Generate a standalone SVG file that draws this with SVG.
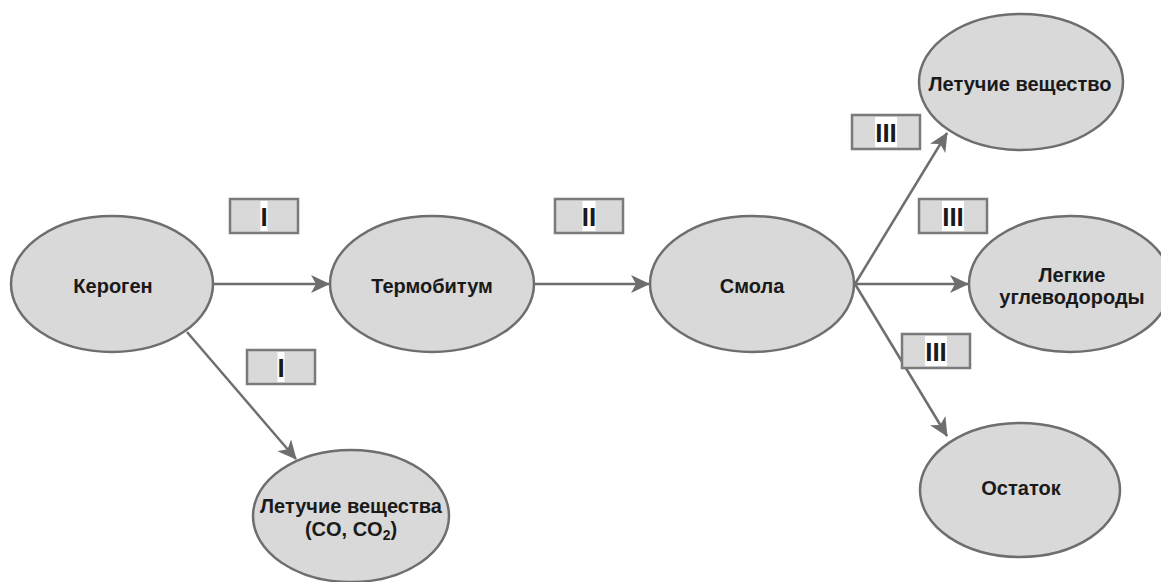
<svg xmlns="http://www.w3.org/2000/svg" width="1161" height="582" viewBox="0 0 1161 582">
<style>
.node{fill:#d9d9d9;stroke:#6e6e6e;stroke-width:2.5}
.t{font-family:"Liberation Sans",Arial,sans-serif;font-weight:bold;font-size:20px;fill:#1a1a1a;text-anchor:middle}
.c{stroke:#6e6e6e;stroke-width:2.5;fill:none;marker-end:url(#ah)}
.lb{fill:#d9d9d9;stroke:#7a7a7a;stroke-width:2.5}
.hl{fill:#ffffff}
.lt{font-family:"Liberation Sans",Arial,sans-serif;font-weight:bold;font-size:26px;fill:#1a1a1a;text-anchor:middle}
</style>
<defs>
<marker id="ah" viewBox="0 0 19 18" refX="18" refY="9" markerWidth="19" markerHeight="18" markerUnits="userSpaceOnUse" orient="auto">
<path d="M0,0 L19,9 L0,18 L5,9 Z" fill="#6e6e6e"/>
</marker>
</defs>
<rect width="1161" height="582" fill="#ffffff"/>
<g id="connectors">
<line class="c" x1="214" y1="284" x2="329" y2="284"/>
<line class="c" x1="535" y1="284" x2="649" y2="284"/>
<line class="c" x1="187" y1="332" x2="296" y2="459"/>
<line class="c" x1="855" y1="284" x2="947" y2="133"/>
<line class="c" x1="855" y1="284" x2="968" y2="284"/>
<line class="c" x1="855" y1="284" x2="947" y2="436"/>
</g>
<g id="n-kerogen"><ellipse class="node" cx="112" cy="284" rx="101" ry="68"/><text class="t" x="113" y="293">Кероген</text></g>
<g id="n-termobitum"><ellipse class="node" cx="432" cy="284" rx="102" ry="68"/><text class="t" x="432" y="293">Термобитум</text></g>
<g id="n-smola"><ellipse class="node" cx="752" cy="284" rx="102" ry="68"/><text class="t" x="752" y="293">Смола</text></g>
<g id="n-volatile-top"><ellipse class="node" cx="1021" cy="82" rx="102" ry="68"/><text class="t" x="1020" y="91">Летучие вещество</text></g>
<g id="n-light"><ellipse class="node" cx="1070" cy="284" rx="101" ry="68"/><text class="t" x="1072" y="282">Легкие</text><text class="t" x="1072" y="304">углеводороды</text></g>
<g id="n-residue"><ellipse class="node" cx="1020" cy="490" rx="100" ry="67"/><text class="t" x="1021" y="495">Остаток</text></g>
<g id="n-volatile-co"><ellipse class="node" cx="351" cy="516" rx="98" ry="66"/><text class="t" x="351" y="513">Летучие вещества</text><text class="t" x="351" y="536">(CO, CO<tspan font-size="14" dy="4">2</tspan><tspan dy="-4">)</tspan></text></g>
<g id="label-I-1"><rect class="lb" x="230" y="199" width="68" height="34"/><rect class="hl" x="260.5" y="201" width="7" height="30"/><text class="lt" x="264" y="226">I</text></g>
<g id="label-I-2"><rect class="lb" x="247" y="350" width="68" height="34"/><rect class="hl" x="277.5" y="352" width="7" height="30"/><text class="lt" x="281" y="377">I</text></g>
<g id="label-II"><rect class="lb" x="555" y="199" width="68" height="34"/><rect class="hl" x="582.5" y="201" width="13" height="30"/><text class="lt" x="589" y="226">II</text></g>
<g id="label-III-1"><rect class="lb" x="852" y="115" width="68" height="34"/><rect class="hl" x="875" y="117" width="22" height="30"/><text class="lt" x="886" y="142">III</text></g>
<g id="label-III-2"><rect class="lb" x="919" y="199" width="68" height="34"/><rect class="hl" x="942" y="201" width="22" height="30"/><text class="lt" x="953" y="226">III</text></g>
<g id="label-III-3"><rect class="lb" x="902" y="334" width="68" height="34"/><rect class="hl" x="925" y="336" width="22" height="30"/><text class="lt" x="936" y="361">III</text></g>
</svg>
